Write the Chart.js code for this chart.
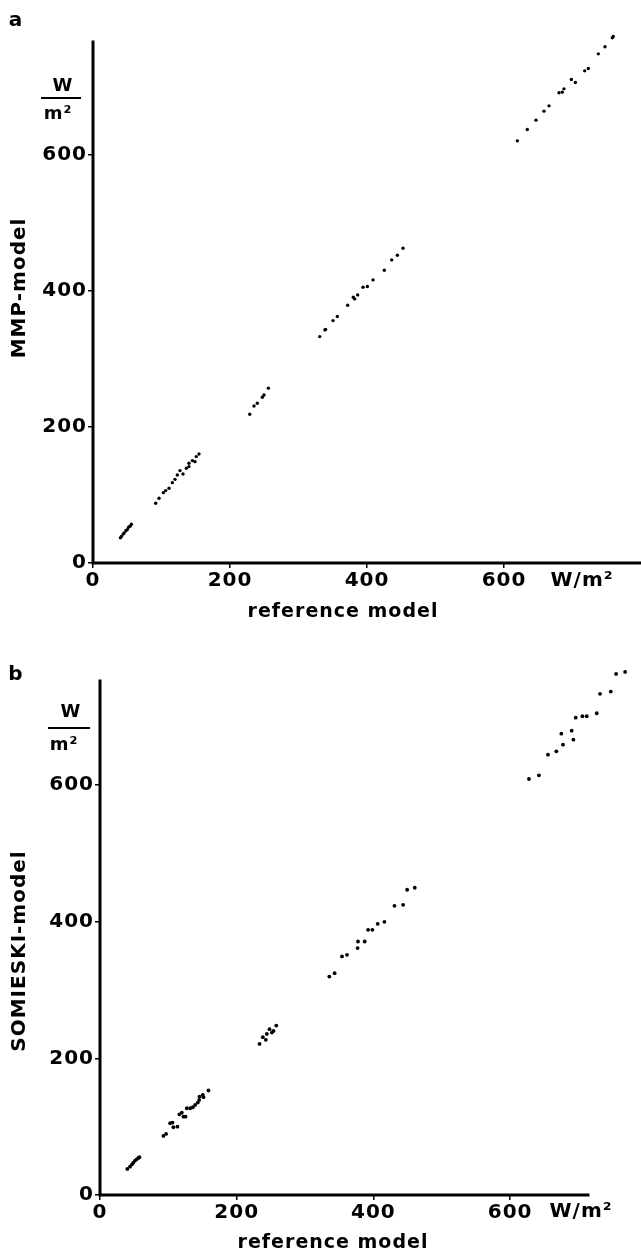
<!DOCTYPE html>
<html>
<head>
<meta charset="utf-8">
<script src="https://cdn.jsdelivr.net/npm/chart.js@4"></script>
<style>
    body { margin: 0; background: #fff; }
    .panel { position: absolute; left: 0; }
    #panelA { top: 0; }
    #panelB { top: 628px; }
</style>
</head>
<body>
<div class="panel" id="panelA"><canvas id="chartA" width="641" height="630"></canvas></div>
<div class="panel" id="panelB"><canvas id="chartB" width="641" height="627"></canvas></div>
<script>
// panel a: reference model (x) vs MMP-model (y), W/m2
const refA = [40, 41.5, 44, 45.5, 48, 50, 52, 54, 56,
    91.5, 96.4, 102.7, 106.1, 111, 115.8, 119.7, 123.1, 127, 131.4, 136.3, 140.1, 140.1, 145, 148.9, 150.8, 154.7,
    228.8, 235, 239.9, 247.2, 249.6, 256,
    331, 338.7, 339.5, 350.4, 356.7, 371.8, 380, 382, 386.4, 394.2, 400.5, 408.8, 425.3, 436.1, 444.3, 452.6,
    619.5, 634, 646.7, 658.4, 665.7, 680.3, 685.1, 687.6, 698.3, 704.2, 717.8, 723.1, 737.7, 747.4, 758.1, 759.5];
const mmpA = [37, 39, 42.5, 44, 47.5, 49, 52.5, 54, 57,
    87.8, 95.1, 103.4, 106.4, 109.8, 118.1, 123, 129.4, 135.8, 130.9, 139.2, 141.7, 146.6, 150.5, 149, 156.4, 160.3,
    218.6, 230.9, 234.8, 243.7, 247, 257,
    332.8, 342.6, 343.5, 356.3, 362.3, 379, 390.7, 388.2, 394.1, 405.4, 406.4, 416.2, 430.4, 445.6, 452.5, 462.7,
    620.6, 637.2, 651, 664.2, 672, 691.2, 692.2, 697, 710.7, 706.3, 723.5, 726.9, 748.5, 758.8, 772, 774];

// panel b: reference model (x) vs SOMIESKI-model (y)
const refB = [40, 43.9, 46.9, 48.8, 51.3, 53.7, 56.1, 57.6,
    92.8, 96.7, 102.6, 106, 107.4, 113.3, 116.2, 119.7, 122.1, 125.1, 127, 131.9, 135.8, 139.2, 143.1, 145.1, 145.5, 150.4, 151.4, 158.7,
    233.4, 238.2, 242.6, 244.1, 248, 251.5, 253.9, 257.9,
    335.5, 343.3, 354.1, 361.4, 376.9, 377.5, 387.3, 392.2, 398.5, 406.3, 416.1, 430.8, 443.5, 449.4, 460.5,
    627.6, 642.2, 655.4, 667.7, 675, 677.4, 690.1, 692.6, 696, 705.8, 712.1, 726.8, 731.6, 747.3, 755.1, 768.3];
const somB = [38.1, 41.5, 44.9, 47.3, 50.3, 52.2, 54.2, 55.2,
    86.4, 89.3, 105, 105.9, 99.1, 100, 118.1, 120.5, 114.6, 114.6, 126.9, 126.9, 128.4, 131.8, 135.2, 139.1, 144, 146.4, 143.1, 152.9,
    221.1, 230.9, 227, 235.7, 242.6, 237.7, 240.1, 247.9,
    319.6, 324.6, 349, 351.4, 361.2, 370.9, 370.9, 388, 388, 396.8, 399.7, 423.1, 424.6, 446.6, 449.5,
    608.6, 614, 644.2, 649.1, 675, 658.9, 679.4, 666.2, 698.4, 700.4, 700.4, 704.8, 733.2, 736.5, 762.4, 765.3];

const tickValues = [0, 200, 400, 600];
const unitText = 'W/m²';

const FONT = 'DejaVu Sans';

// letter spacing for all canvas text (the original lettering is wide)
const spacingPlugin = {
    id: 'spacing',
    beforeDraw(chart) {
        chart.ctx.letterSpacing = '1px';
    }
};

// axis lines drawn only as far as the original axes go (points may run past them)
const axisPlugin = {
    id: 'axisLines',
    beforeDatasetsDraw(chart, args, o) {
        const ctx = chart.ctx;
        const xs = chart.scales.x, ys = chart.scales.y;
        const x0 = xs.getPixelForValue(0), y0 = ys.getPixelForValue(0);
        ctx.save();
        ctx.strokeStyle = '#000';
        ctx.lineWidth = 3;
        ctx.lineCap = 'square';
        ctx.beginPath();
        ctx.moveTo(x0, y0);
        ctx.lineTo(xs.getPixelForValue(o.xEnd), y0);
        ctx.moveTo(x0, y0);
        ctx.lineTo(x0, ys.getPixelForValue(o.yEnd));
        ctx.stroke();
        ctx.restore();
    }
};

// panel letter, axis titles and unit labels
const textPlugin = {
    id: 'panelText',
    afterDraw(chart, args, o) {
        const ctx = chart.ctx;
        ctx.save();
        ctx.fillStyle = '#000';
        ctx.strokeStyle = '#000';
        ctx.textAlign = 'center';
        ctx.textBaseline = 'middle';

        ctx.font = 'bold 20px ' + FONT;
        ctx.fillText(o.letter, o.letterPos[0], o.letterPos[1]);

        // y title, rotated
        ctx.save();
        ctx.translate(o.yTitlePos[0], o.yTitlePos[1]);
        ctx.rotate(-Math.PI / 2);
        ctx.font = 'bold 20px ' + FONT;
        ctx.fillText(o.yTitle, 0, 0);
        ctx.restore();

        // x title and unit
        ctx.font = 'bold 19px ' + FONT;
        ctx.fillText(o.xTitle, o.xTitlePos[0], o.xTitlePos[1]);
        ctx.font = 'bold 20px ' + FONT;
        ctx.fillText(unitText, o.unitPos[0], o.unitPos[1]);

        // stacked W over m2 on the y axis
        const f = o.frac;
        ctx.font = 'bold 18px ' + FONT;
        ctx.fillText('W', f.w[0], f.w[1]);
        ctx.fillText('m²', f.m[0], f.m[1]);
        ctx.lineWidth = 2;
        ctx.beginPath();
        ctx.moveTo(f.line[0], f.line[2]);
        ctx.lineTo(f.line[1], f.line[2]);
        ctx.stroke();
        ctx.restore();
    }
};

function makeChart(id, xs, ys, lim, pad, yWidth, xHeight, radius, text) {
    const points = xs.map((x, i) => ({ x: x, y: ys[i] }));
    const axis = (max, fit) => ({
        type: 'linear',
        min: 0,
        max: max,
        afterBuildTicks: s => { s.ticks = tickValues.map(v => ({ value: v })); },
        afterFit: fit,
        border: { display: false },
        grid: { drawOnChartArea: false, drawTicks: true, tickLength: 5, color: '#000', lineWidth: 1.5 },
        ticks: { color: '#000', padding: 1, font: { family: FONT, size: 20, weight: 'bold' } }
    });

    return new Chart(document.getElementById(id), {
        type: 'scatter',
        data: {
            datasets: [{
                data: points,
                clip: false,
                pointRadius: radius,
                pointBackgroundColor: '#000',
                pointBorderWidth: 0
            }]
        },
        options: {
            responsive: false,
            animation: false,
            layout: { padding: pad, autoPadding: false },
            scales: {
                x: axis(lim.xMax, s => { s.height = xHeight; s.paddingLeft = 0; s.paddingRight = 0; }),
                y: axis(lim.yMax, s => { s.width = yWidth; s.paddingTop = 0; s.paddingBottom = 0; })
            },
            plugins: {
                legend: { display: false },
                tooltip: { enabled: false },
                axisLines: { xEnd: lim.xEnd, yEnd: lim.yEnd },
                panelText: text
            }
        },
        plugins: [spacingPlugin, axisPlugin, textPlugin]
    });
}

makeChart('chartA', refA, mmpA,
    { xMax: 800, yMax: 780, xEnd: 800, yEnd: 766 },
    { top: 32.4, left: 0, right: 0, bottom: 0 }, 93, 67, 1.7, {
        letter: 'a', letterPos: [16, 21],
        yTitle: 'MMP-model', yTitlePos: [20, 288],
        xTitle: 'reference model', xTitlePos: [343, 612],
        unitPos: [582, 581],
        frac: { w: [63, 86], m: [58, 114], line: [41, 81, 98] }
    });

makeChart('chartB', refB, somB,
    { xMax: 775, yMax: 770, xEnd: 714, yEnd: 752 },
    { top: 40.7, left: 0, right: 11.3, bottom: 0 }, 100, 60, 1.9, {
        letter: 'b', letterPos: [16, 47],
        yTitle: 'SOMIESKI-model', yTitlePos: [20, 323],
        xTitle: 'reference model', xTitlePos: [333, 615],
        unitPos: [581, 584],
        frac: { w: [71, 84], m: [64, 117], line: [48, 90, 100] }
    });
</script>
</body>
</html>
